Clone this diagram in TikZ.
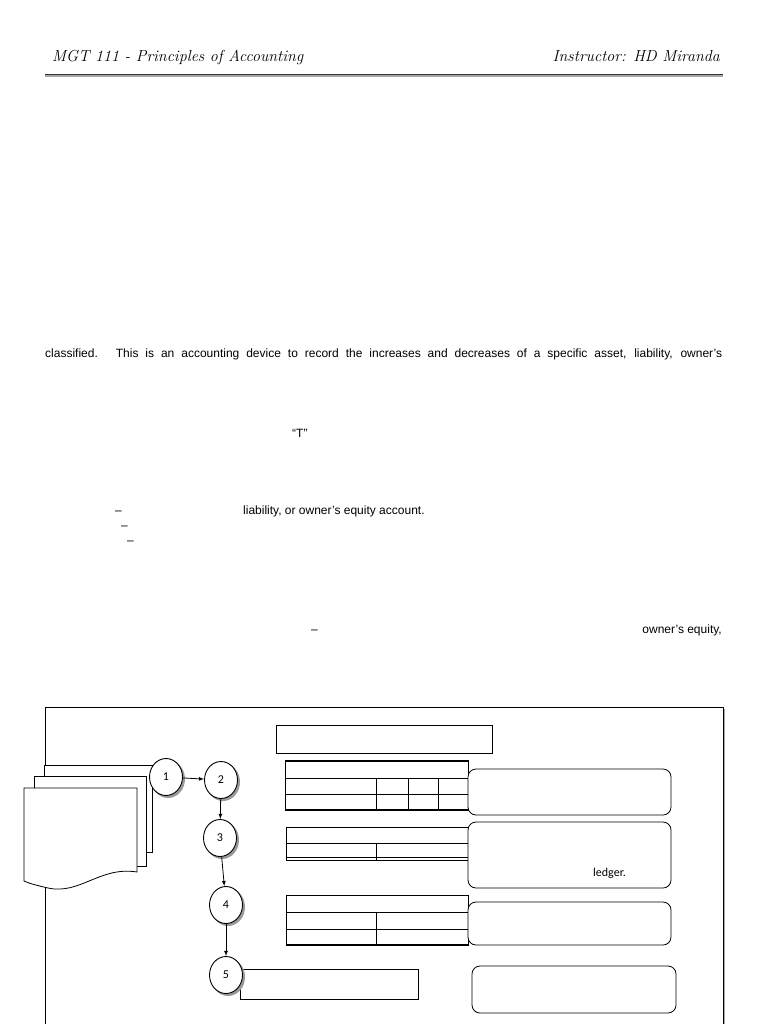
\documentclass[tikz,border=0pt]{standalone}
\usepackage{fontspec}
\usetikzlibrary{shapes.geometric}
\setmainfont{Liberation Sans}
\newfontfamily\hdr{Latin Modern Roman}
\newfontfamily\carl{Carlito}
\tikzset{
  ln/.style={draw=black,line width=0.8pt},
  circ/.style={ellipse,draw=black,line width=0.9pt,fill=white,minimum width=33pt,minimum height=37pt,inner sep=0pt,font=\carl\fontsize{12}{12}\selectfont},
  rbox/.style={draw=black,line width=0.8pt,rounded corners=8pt},
  arr/.style={-latex,line width=0.8pt},
  body/.style={anchor=base west,inner sep=0pt,font=\fontsize{12}{14}\selectfont}
}
\begin{document}
\begin{tikzpicture}[x=1pt,y=-1pt]
\useasboundingbox (0,0) rectangle (768,1024);
\fill[white] (0,0) rectangle (768,1024);
% header
\node[anchor=base west,inner sep=0pt,font=\hdr\itshape\fontsize{16}{17}\selectfont] (h1) at (52,62) {MGT 111 - Principles of Accounting};
\node[anchor=base east,inner sep=0pt,font=\hdr\itshape\fontsize{16}{17}\selectfont] (h2) at (720,62) {Instructor: HD Miranda};
\fill[gray!70] (45,74) rectangle (723,77.5);
\draw[black!80,line width=0.6pt] (45,74.5) -- (723,74.5);
% body text
\node[body] (t1) at (45,357) {\hbox to 677pt{classified.\hspace{1.5em}This is an accounting device to record the increases and decreases of a specific asset, liability, owner’s}};
\node[body] (t2) at (292,437) {“T”};
\node[body] (t3a) at (115,514) {–};
\node[body] (t3b) at (243,514) {liability, or owner’s equity account.};
\node[body] (t4) at (121,529) {–};
\node[body] (t5) at (127,544) {–};
\node[body] (t6) at (311,633) {–};
\node[anchor=base east,inner sep=0pt,font=\fontsize{12}{14}\selectfont] (t7) at (722,633) {owner’s equity,};
% outer frame
\draw[line width=2pt,black!35] (724,709) -- (724,1024);
\draw[ln] (45,1024) -- (45,707) -- (723,707) -- (723,1024);
% title box
\draw[ln] (276,725) rectangle (492,753);
% document stack
\draw[ln,fill=white] (44,765) rectangle (152,852);
\draw[ln,fill=white] (34,776) rectangle (146,866);
\draw[ln,fill=white] (24,788) -- (137,788) -- (137,872) .. controls (100,866) and (80,895) .. (48,888) .. controls (35,885) and (28,883) .. (24,881) -- cycle;
% tables
\draw[line width=1.4pt] (285,761) -- (468,761);
\draw[ln] (285,760) rectangle (468,810);
\draw[ln] (285,778) -- (468,778) (285,794) -- (468,794);
\draw[ln] (376,778) -- (376,810) (408,778) -- (408,810) (438,778) -- (438,810);
\draw[line width=1.4pt] (285,810) -- (468,810);
\draw[ln] (286,827) rectangle (468,860);
\draw[ln] (286,843) -- (468,843) (286,857) -- (468,857) (376,843) -- (376,860);
\draw[ln] (286,895) rectangle (468,945);
\draw[ln] (286,912) -- (468,912) (286,929) -- (468,929) (376,912) -- (376,945);
\draw[line width=1.4pt] (286,945) -- (468,945);
% rounded boxes
\draw[rbox,fill=white] (468,769) rectangle (671,815);
\draw[rbox,fill=white] (468,822) rectangle (671,888);
\node[anchor=base west,inner sep=0pt,font=\carl\fontsize{12}{12}\selectfont] (lg) at (593,876) {ledger.};
\draw[rbox,fill=white] (468,902) rectangle (671,945);
\draw[rbox] (472,966) rectangle (676,1013);
\draw[ln] (240,969) rectangle (418,999);
% circles
\foreach \n/\x/\y in {1/166/777,2/221/780,3/220/838,4/226/905,5/226/975}{
  \fill[black!40] (\x+2,\y+2) ellipse (17pt and 19pt);
  \node[circ] (c\n) at (\x,\y) {\n};
}
\draw[arr] (c1) -- (c2);
\draw[arr] (c2) -- (c3);
\draw[arr] (c3) -- (c4);
\draw[arr] (c4) -- (c5);
\end{tikzpicture}
\end{document}
